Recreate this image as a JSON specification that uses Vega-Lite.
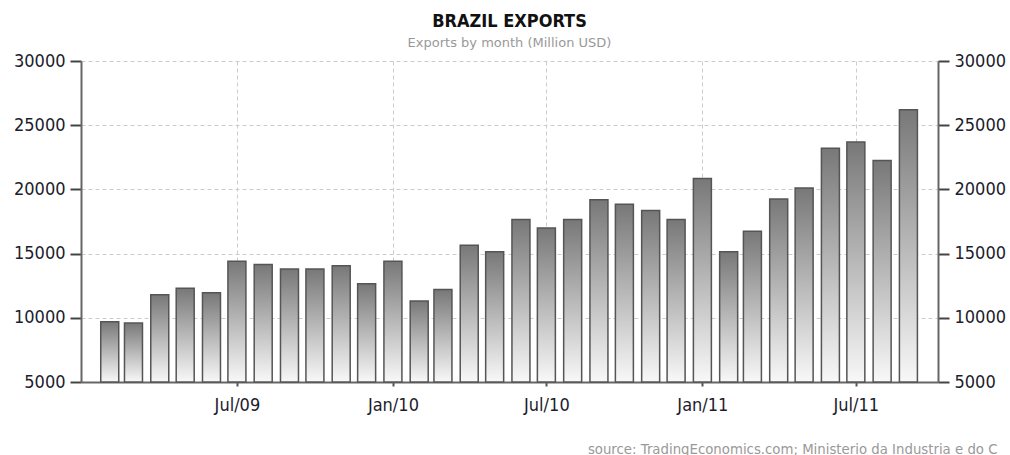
{
  "$schema": "https://vega.github.io/schema/vega-lite/v6.json",
  "width": 857,
  "height": 321,
  "autosize": {"type": "none"},
  "padding": {"left": 81, "top": 61, "right": 72, "bottom": 73},
  "background": "white",
  "title": {
    "text": "BRAZIL EXPORTS",
    "subtitle": "Exports by month (Million USD)",
    "anchor": "middle",
    "font": "DejaVu Sans Condensed",
    "fontSize": 18,
    "fontWeight": "bold",
    "color": "#111111",
    "subtitleFont": "DejaVu Sans",
    "subtitleFontSize": 13,
    "subtitleColor": "#999999",
    "subtitlePadding": 6,
    "offset": 2
  },
  "data": {
    "values": [
      {"date": "2009-02-01", "exports": 9700},
      {"date": "2009-03-01", "exports": 9600},
      {"date": "2009-04-01", "exports": 11800},
      {"date": "2009-05-01", "exports": 12300},
      {"date": "2009-06-01", "exports": 11950},
      {"date": "2009-07-01", "exports": 14400},
      {"date": "2009-08-01", "exports": 14150},
      {"date": "2009-09-01", "exports": 13800},
      {"date": "2009-10-01", "exports": 13800},
      {"date": "2009-11-01", "exports": 14050},
      {"date": "2009-12-01", "exports": 12650},
      {"date": "2010-01-01", "exports": 14400},
      {"date": "2010-02-01", "exports": 11300},
      {"date": "2010-03-01", "exports": 12200},
      {"date": "2010-04-01", "exports": 15650},
      {"date": "2010-05-01", "exports": 15150},
      {"date": "2010-06-01", "exports": 17650},
      {"date": "2010-07-01", "exports": 17000},
      {"date": "2010-08-01", "exports": 17650},
      {"date": "2010-09-01", "exports": 19200},
      {"date": "2010-10-01", "exports": 18850},
      {"date": "2010-11-01", "exports": 18350},
      {"date": "2010-12-01", "exports": 17650},
      {"date": "2011-01-01", "exports": 20850},
      {"date": "2011-02-01", "exports": 15150},
      {"date": "2011-03-01", "exports": 16750},
      {"date": "2011-04-01", "exports": 19250},
      {"date": "2011-05-01", "exports": 20100},
      {"date": "2011-06-01", "exports": 23200},
      {"date": "2011-07-01", "exports": 23700},
      {"date": "2011-08-01", "exports": 22250},
      {"date": "2011-09-01", "exports": 26200}
    ]
  },
  "encoding": {
    "x": {
      "field": "date",
      "type": "temporal",
      "scale": {
        "type": "utc",
        "domain": [
          {"year": 2009, "month": 1, "date": 4, "utc": true},
          {"year": 2011, "month": 9, "date": 30, "utc": true}
        ],
        "nice": false
      },
      "axis": {
        "values": [
          {"year": 2009, "month": 7, "date": 1, "utc": true},
          {"year": 2010, "month": 1, "date": 1, "utc": true},
          {"year": 2010, "month": 7, "date": 1, "utc": true},
          {"year": 2011, "month": 1, "date": 1, "utc": true},
          {"year": 2011, "month": 7, "date": 1, "utc": true}
        ],
        "format": "%b/%y",
        "labelFont": "DejaVu Sans Condensed",
        "labelFontSize": 18,
        "labelColor": "#1c1c2c",
        "labelPadding": 10,
        "labelFlush": false,
        "tickSize": 4,
        "tickWidth": 2,
        "tickColor": "#555555",
        "domainColor": "#666666",
        "domainWidth": 2,
        "grid": true,
        "gridColor": "#cccccc",
        "gridDash": [4, 3],
        "gridWidth": 1,
        "title": "source: TradingEconomics.com; Ministerio da Industria e do C",
        "titleFont": "DejaVu Sans",
        "titleFontSize": 13.3,
        "titleFontWeight": "normal",
        "titleColor": "#999999",
        "titleAlign": "right",
        "titleBaseline": "alphabetic",
        "titleX": 916,
        "titleY": 71
      }
    },
    "y": {
      "field": "exports",
      "type": "quantitative",
      "scale": {"domain": [5000, 30000], "nice": false, "zero": false}
    }
  },
  "layer": [
    {
      "mark": {
        "type": "bar",
        "size": 18,
        "stroke": "#555555",
        "strokeWidth": 1.5,
        "fill": {
          "gradient": "linear",
          "x1": 0, "y1": 0, "x2": 0, "y2": 1,
          "stops": [
            {"offset": 0, "color": "#787878"},
            {"offset": 1, "color": "#f8f8f8"}
          ]
        }
      },
      "encoding": {
        "y": {
          "field": "exports",
          "type": "quantitative",
          "axis": {
            "orient": "left",
            "values": [5000, 10000, 15000, 20000, 25000, 30000],
            "format": "d",
            "title": null,
            "labelFont": "DejaVu Sans Condensed",
            "labelFontSize": 18,
            "labelColor": "#1c1c2c",
            "labelPadding": 5,
            "tickSize": 11,
            "tickWidth": 2,
            "tickColor": "#444444",
            "domainColor": "#666666",
            "domainWidth": 2,
            "grid": true,
            "gridColor": "#cccccc",
            "gridDash": [4, 3],
            "gridWidth": 1
          }
        },
        "y2": {"datum": 5000}
      }
    },
    {
      "mark": {"type": "point", "opacity": 0},
      "encoding": {
        "y": {
          "field": "exports",
          "type": "quantitative",
          "axis": {
            "orient": "right",
            "values": [5000, 10000, 15000, 20000, 25000, 30000],
            "format": "d",
            "title": null,
            "labelFont": "DejaVu Sans Condensed",
            "labelFontSize": 18,
            "labelColor": "#1c1c2c",
            "labelPadding": 5,
            "tickSize": 11,
            "tickWidth": 2,
            "tickColor": "#444444",
            "domainColor": "#666666",
            "domainWidth": 2,
            "grid": false
          }
        }
      }
    }
  ],
  "resolve": {"axis": {"y": "independent"}},
  "config": {
    "view": {"stroke": null},
    "axis": {"labelFlush": false}
  }
}
